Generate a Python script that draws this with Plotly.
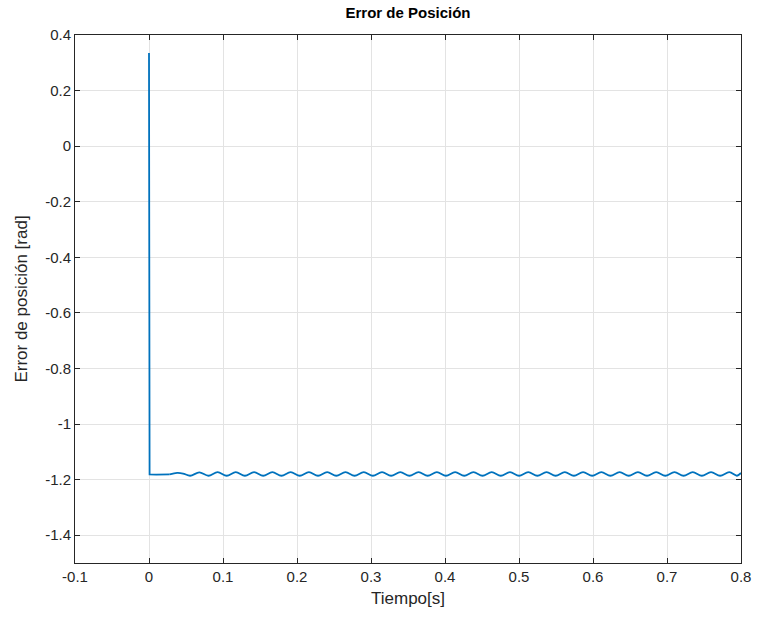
import plotly.graph_objects as go

# Initial step (drop from the initial error to the steady level)
t_drop = [0.0, 0.0, 0.0008, 0.010, 0.020, 0.028]
e_drop = [0.335, 0.335, -1.181, -1.182, -1.182, -1.181]

# Oscillating part (read peaks / troughs from the picture)
t_wave = [0.028, 0.038, 0.046, 0.0556, 0.068, 0.0803, 0.0927, 0.1050, 0.1173, 0.1296,
          0.1420, 0.1543, 0.1667, 0.1790, 0.1914, 0.2037, 0.2161, 0.2284, 0.2408,
          0.2531, 0.2655, 0.2778, 0.2902, 0.3025, 0.3149, 0.3272, 0.3396, 0.3519,
          0.3643, 0.3766, 0.3890, 0.4013, 0.4137, 0.4260, 0.4384, 0.4507, 0.4631,
          0.4754, 0.4878, 0.5001, 0.5125, 0.5248, 0.5372, 0.5495, 0.5619, 0.5742,
          0.5866, 0.5989, 0.6113, 0.6236, 0.6360, 0.6483, 0.6607, 0.6730, 0.6854,
          0.6977, 0.7101, 0.7224, 0.7348, 0.7471, 0.7595, 0.7718, 0.7842, 0.7945,
          0.8000]
e_wave = [-1.181, -1.176, -1.178, -1.186, -1.174, -1.186, -1.173, -1.186, -1.173, -1.186,
          -1.173, -1.186, -1.173, -1.186, -1.173, -1.186, -1.173, -1.186, -1.173,
          -1.186, -1.173, -1.186, -1.173, -1.186, -1.173, -1.186, -1.173, -1.186,
          -1.173, -1.186, -1.173, -1.186, -1.173, -1.186, -1.173, -1.186, -1.173,
          -1.186, -1.173, -1.186, -1.173, -1.186, -1.173, -1.186, -1.173, -1.186,
          -1.173, -1.186, -1.173, -1.186, -1.173, -1.186, -1.173, -1.186, -1.173,
          -1.186, -1.173, -1.186, -1.173, -1.186, -1.173, -1.186, -1.173, -1.186,
          -1.176]

x_ticks = [-0.1, 0, 0.1, 0.2, 0.3, 0.4, 0.5, 0.6, 0.7, 0.8]
x_tick_text = ["-0.1", "0", "0.1", "0.2", "0.3", "0.4", "0.5", "0.6", "0.7", "0.8"]
y_ticks = [0.4, 0.2, 0, -0.2, -0.4, -0.6, -0.8, -1, -1.2, -1.4]
y_tick_text = ["0.4", "0.2", "0", "-0.2", "-0.4", "-0.6", "-0.8", "-1", "-1.2", "-1.4"]

LINE = "#0072BD"
AX = "#262626"
FONT = "Liberation Sans, Arial, sans-serif"

fig = go.Figure()
fig.add_trace(go.Scatter(x=t_drop, y=e_drop, mode="lines",
                         line=dict(color=LINE, width=1.8), showlegend=False))
fig.add_trace(go.Scatter(x=t_wave, y=e_wave, mode="lines",
                         line=dict(color=LINE, width=1.8, shape="spline", smoothing=1.0),
                         showlegend=False))

axis_common = dict(showline=True, linecolor=AX, linewidth=1, mirror="ticks",
                   ticks="inside", ticklen=5, tickcolor=AX, tickwidth=1,
                   showgrid=True, gridcolor="#e3e3e3", gridwidth=1, zeroline=False,
                   automargin=False,
                   tickfont=dict(family=FONT, size=15, color=AX))

fig.update_xaxes(range=[-0.1, 0.8], tickvals=x_ticks, ticktext=x_tick_text,
                 title=dict(text="Tiempo[s]", font=dict(family=FONT, size=17, color=AX),
                            standoff=8),
                 **axis_common)
fig.update_yaxes(range=[-1.5, 0.4], tickvals=y_ticks, ticktext=y_tick_text,
                 title=dict(text="Error de posición [rad]",
                            font=dict(family=FONT, size=17, color=AX), standoff=13),
                 **axis_common)

fig.update_layout(
    width=758, height=627,
    margin=dict(l=75, r=17, t=35, b=64, autoexpand=False),
    paper_bgcolor="white", plot_bgcolor="white",
    title=dict(text="<b>Error de Posición</b>", x=408 / 758, xanchor="center",
               y=1 - 13 / 627, yanchor="middle",
               font=dict(family=FONT, size=15, color="black")),
    font=dict(family=FONT),
)

fig.write_html("out.html")
